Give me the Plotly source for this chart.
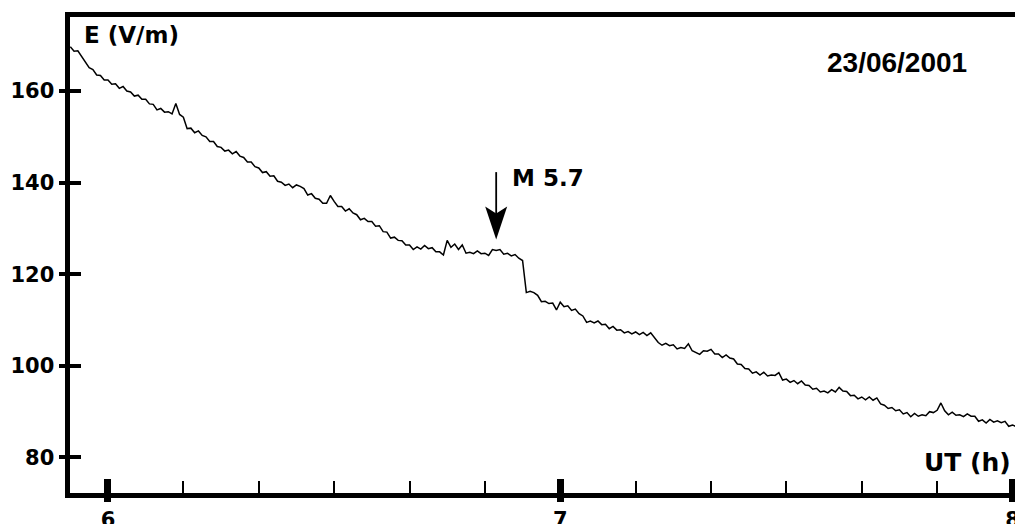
import plotly.graph_objects as go

# ---- data -------------------------------------------------------------
START_MIN = -5.0      # first sample, minutes relative to 06:00 UT
STEP_MIN = 0.5        # sampling step, minutes

e_field = [
    169.7, 168.7, 168.8, 167.5, 166.4, 165.1, 164.7, 163.5, 163.4, 162.4,
    162.4, 161.5, 161.6, 160.6, 161.0, 160.0, 159.8, 158.9, 159.1, 158.2,
    158.2, 157.2, 157.1, 155.9, 156.2, 155.4, 155.5, 155.0, 157.3, 154.9,
    154.3, 151.8, 151.9, 150.9, 151.3, 150.3, 150.0, 149.0, 149.0, 147.9,
    147.7, 146.9, 147.1, 146.3, 146.8, 145.8, 145.5, 144.5, 144.5, 143.5,
    143.2, 142.2, 142.4, 141.4, 141.5, 140.3, 140.1, 139.4, 139.7, 138.9,
    139.5, 139.2, 138.7, 137.3, 137.6, 136.6, 136.4, 135.5, 135.5, 137.2,
    135.9, 134.8, 134.8, 133.8, 134.3, 133.4, 133.0, 131.9, 132.2, 131.5,
    131.5, 130.5, 130.6, 129.3, 129.2, 127.9, 128.1, 127.4, 127.3, 126.4,
    126.4, 125.4, 126.0, 125.5, 126.3, 125.6, 125.8, 124.9, 124.9, 124.2,
    127.4, 125.9, 126.6, 125.4, 126.4, 124.6, 124.8, 124.5, 125.1, 124.5,
    124.6, 124.1, 125.4, 125.2, 125.4, 124.4, 124.6, 124.0, 124.3, 123.5,
    123.0, 116.0, 116.3, 116.0, 115.4, 114.0, 114.1, 113.6, 113.7, 112.2,
    113.9, 112.9, 113.1, 112.1, 112.4, 111.4, 110.9, 109.5, 109.8, 109.4,
    109.8, 109.0, 109.1, 108.1, 108.6, 107.8, 107.9, 107.2, 107.5, 107.0,
    107.4, 106.8, 107.3, 106.6, 107.2, 106.2, 105.1, 104.5, 104.9, 104.4,
    104.6, 103.7, 104.0, 103.8, 104.8, 103.3, 102.9, 102.5, 103.3, 103.2,
    103.6, 102.6, 102.6, 101.8, 102.4, 101.7, 101.5, 100.4, 100.3, 99.4,
    99.3, 98.4, 98.7, 98.0, 98.6, 97.8, 98.0, 97.9, 98.5, 96.9,
    97.1, 96.4, 96.8, 96.1, 96.7, 95.8, 95.7, 94.9, 95.1, 94.3,
    94.5, 94.1, 94.8, 94.3, 95.3, 94.5, 94.4, 93.5, 93.6, 92.8,
    93.2, 92.6, 93.2, 92.5, 93.0, 91.7, 91.4, 90.7, 90.9, 90.2,
    90.4, 89.5, 89.8, 88.9, 89.6, 89.0, 89.3, 89.1, 90.0, 89.8,
    90.3, 91.9, 90.2, 89.3, 89.9, 89.2, 89.3, 88.9, 89.5, 89.0,
    89.0, 87.9, 88.2, 87.5, 88.3, 87.7, 88.0, 87.6, 87.9, 86.8,
    87.1, 86.7,
]
ut_hours = [6 + (START_MIN + STEP_MIN * i) / 60 for i in range(len(e_field))]

y_tickvals = [80, 100, 120, 140, 160]
x_major = [6, 7, 8]
x_minor = [6 + k / 6 for k in range(13)]

event_time = 6 + 51.5 / 60     # M 5.7 earthquake
arrow_top = 142.3
arrow_tip = 127.6
date_label = "23/06/2001"
event_label = "M 5.7"

X_RANGE = [5.916, 8.0055]
Y_RANGE = [72.24, 176.17]

# ---- figure -----------------------------------------------------------
BOLD = "DejaVu Sans"
ARIAL = "Liberation Sans, Arial, sans-serif"

fig = go.Figure()
fig.add_trace(go.Scatter(x=ut_hours, y=e_field, mode="lines",
                         line=dict(color="black", width=1.5),
                         hoverinfo="skip"))
fig.add_trace(go.Scatter(x=[], y=[], xaxis="x2", yaxis="y2", mode="lines"))

fig.update_layout(
    width=1015, height=524,
    margin=dict(l=70, r=0, t=17, b=31),
    paper_bgcolor="white", plot_bgcolor="white",
    showlegend=False,
    xaxis=dict(range=X_RANGE, showline=True, linewidth=5, linecolor="black",
               mirror=True, ticks="outside", tickvals=x_major,
               ticktext=[str(v) for v in x_major],
               ticklen=4, tickwidth=7, tickcolor="black", automargin=False,
               ticklabeloverflow="allow",
               tickfont=dict(family=BOLD, size=21, color="black", weight="bold"),
               showgrid=False, zeroline=False,
               minor=dict(ticks="inside", tickvals=x_minor, ticklen=12,
                          tickwidth=1.5, tickcolor="black", showgrid=False)),
    xaxis2=dict(range=X_RANGE, overlaying="x", anchor="y2", side="bottom",
                ticks="inside", tickvals=x_major, ticklen=14, tickwidth=7,
                tickcolor="black", showticklabels=False, showline=False,
                showgrid=False, zeroline=False, automargin=False),
    yaxis=dict(range=Y_RANGE, showline=True, linewidth=5, linecolor="black",
               ticks="outside", tickvals=y_tickvals, ticklen=6.5, tickwidth=4,
               tickcolor="black", automargin=False,
               tickfont=dict(family=BOLD, size=21, color="black", weight="bold"),
               showgrid=False, zeroline=False),
    yaxis2=dict(range=Y_RANGE, overlaying="y", anchor="x2", side="left",
                ticks="inside", tickvals=y_tickvals, ticklen=11, tickwidth=4,
                tickcolor="black", showticklabels=False, showline=False,
                showgrid=False, zeroline=False, automargin=False),
)

fig.add_annotation(text="E (V/m)", xref="paper", yref="paper",
                   x=0.0127, y=0.962, xanchor="left", yanchor="middle",
                   showarrow=False,
                   font=dict(family=BOLD, size=23, color="black", weight="bold"))
fig.add_annotation(text=date_label, xref="paper", yref="paper",
                   x=0.875, y=0.905, xanchor="center", yanchor="middle",
                   showarrow=False,
                   font=dict(family=ARIAL, size=28, color="black", weight="bold"))
fig.add_annotation(text="UT (h)", xref="paper", yref="paper",
                   x=0.998, y=0.065, xanchor="right", yanchor="middle",
                   showarrow=False,
                   font=dict(family=BOLD, size=25, color="black", weight="bold"))
fig.add_annotation(text=event_label, xref="x", yref="y",
                   x=6.889, y=141.0, xanchor="left", yanchor="middle",
                   showarrow=False,
                   font=dict(family=BOLD, size=23, color="black", weight="bold"))

# arrow pointing at the event
fig.add_shape(type="line", xref="x", yref="y",
              x0=event_time, x1=event_time, y0=arrow_top, y1=arrow_tip + 4,
              line=dict(color="black", width=1.8))
fig.add_shape(type="path", xref="x", yref="y",
              xsizemode="pixel", ysizemode="pixel",
              xanchor=event_time, yanchor=arrow_tip,
              path="M0,0 L-11,33 L0,26 L11,33 Z",
              fillcolor="black", line=dict(width=0))

# remove the default 8 px page margin so the figure fills the window exactly
fig.write_html(
    "out.html",
    config={"displayModeBar": False},
    post_script="document.body.style.margin='0';"
                "document.body.style.overflow='hidden';",
)
